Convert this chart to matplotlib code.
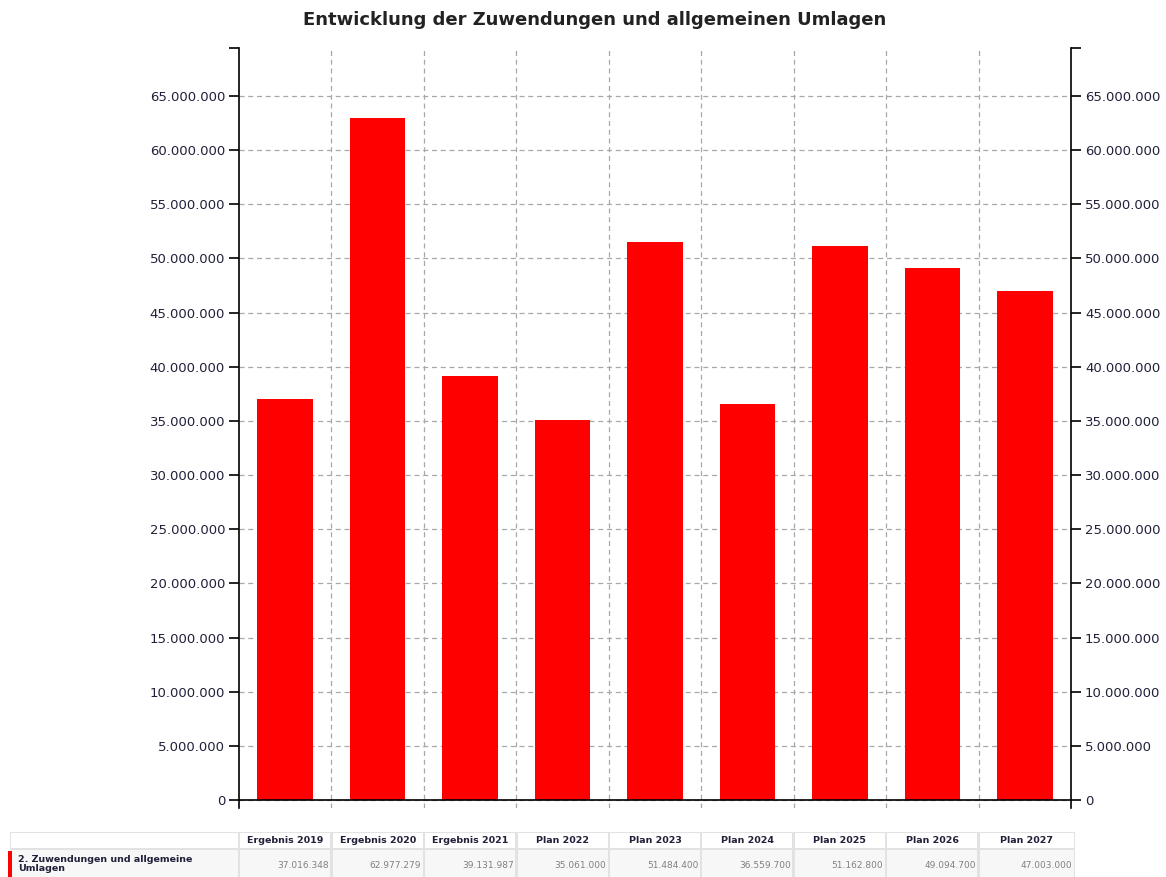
import matplotlib
matplotlib.use("Agg")
import matplotlib.pyplot as plt
from matplotlib.patches import Rectangle
from matplotlib.ticker import FuncFormatter

# data
categories = ["Ergebnis 2019", "Ergebnis 2020", "Ergebnis 2021", "Plan 2022", "Plan 2023",
              "Plan 2024", "Plan 2025", "Plan 2026", "Plan 2027"]
values = [37016348, 62977279, 39131987, 35061000, 51484400, 36559700, 51162800, 49094700, 47003000]
value_labels = ["37.016.348", "62.977.279", "39.131.987", "35.061.000", "51.484.400",
                "36.559.700", "51.162.800", "49.094.700", "47.003.000"]
series_name = "2. Zuwendungen und allgemeine\nUmlagen"
title = "Entwicklung der Zuwendungen und allgemeinen Umlagen"
yticks = list(range(0, 65000001, 5000000))

W, H = 1166, 877
fig = plt.figure(figsize=(W / 100, H / 100), dpi=100)
txt = "#20203a"

def dots(v, pos=None):
    return f"{int(v):,}".replace(",", ".")

# main chart
ax = fig.add_axes([239 / W, 1 - 808 / H, (1071 - 239) / W, (808 - 48) / H])
x = list(range(len(categories)))
ax.bar(x, values, width=0.6, color="#ff0000", zorder=3)
ax.set_xlim(-0.5, len(categories) - 0.5)
ax.set_ylim(-740000, 69430000)
ax.axhline(0, color="black", lw=1.2, zorder=4)

ax.set_yticks(yticks)
ax.yaxis.set_major_formatter(FuncFormatter(dots))
ax.set_yticks([69430000], minor=True)
ax.tick_params(axis="y", which="both", direction="out", length=7, width=1.2, pad=3,
               labelsize=9.5, labelcolor=txt, left=True, right=True, labelleft=True, labelright=True)
ax.set_xticks([i + 0.5 for i in range(len(categories) - 1)], minor=True)
ax.set_xticks([])
ax.tick_params(axis="x", which="both", length=0)

ax.grid(axis="y", which="major", ls=(0, (4, 3)), color="#a8a8a8", lw=0.9, zorder=0)
ax.grid(axis="x", which="minor", ls=(0, (4, 3)), color="#a8a8a8", lw=0.9, zorder=0)
ax.grid(axis="y", which="minor", visible=False)
for s in ["top", "bottom"]:
    ax.spines[s].set_visible(False)
for s in ["left", "right"]:
    ax.spines[s].set_linewidth(1.2)

fig.text(595 / W, 1 - 20 / H, title, ha="center", va="center", fontsize=13,
         fontweight="bold", color="#222222")

# table below
x0 = -0.5 - 229 / 92.44
x1 = len(categories) - 0.5 + 4 / 92.44
tx = fig.add_axes([10 / W, 0, (1075 - 10) / W, 45 / H])
tx.set_xlim(x0, x1)
tx.set_ylim(877, 832)
tx.axis("off")

tx.add_patch(Rectangle((x0, 832), x1 - x0, 45, color="#e2e2e2", lw=0))
edges = [x0] + [i - 0.5 for i in x] + [x1]
for j in range(len(edges) - 1):
    a, b = edges[j], edges[j + 1]
    d = 1.2 / 92.44
    tx.add_patch(Rectangle((a + d, 833.5), b - a - 2 * d, 15, color="white", lw=0))
    tx.add_patch(Rectangle((a + d, 850.5), b - a - 2 * d, 30, color="#f7f7f7", lw=0))
    if j > 0:
        tx.text((a + b) / 2, 841, categories[j - 1], ha="center", va="center",
                fontsize=6.8, fontweight="bold", color=txt)
        tx.text(b - 0.03, 865.5, value_labels[j - 1], ha="right", va="center",
                fontsize=6.5, color="#808080")
tx.add_patch(Rectangle((x0 - 2 / 92.44, 851), 4 / 92.44, 26, color="#ff0000", lw=0,
                       clip_on=False))
tx.text(x0 + 8 / 92.44, 864, series_name, ha="left", va="center", fontsize=6.8,
        fontweight="bold", color=txt, linespacing=1.0)

fig.savefig("out.png", dpi=100)
